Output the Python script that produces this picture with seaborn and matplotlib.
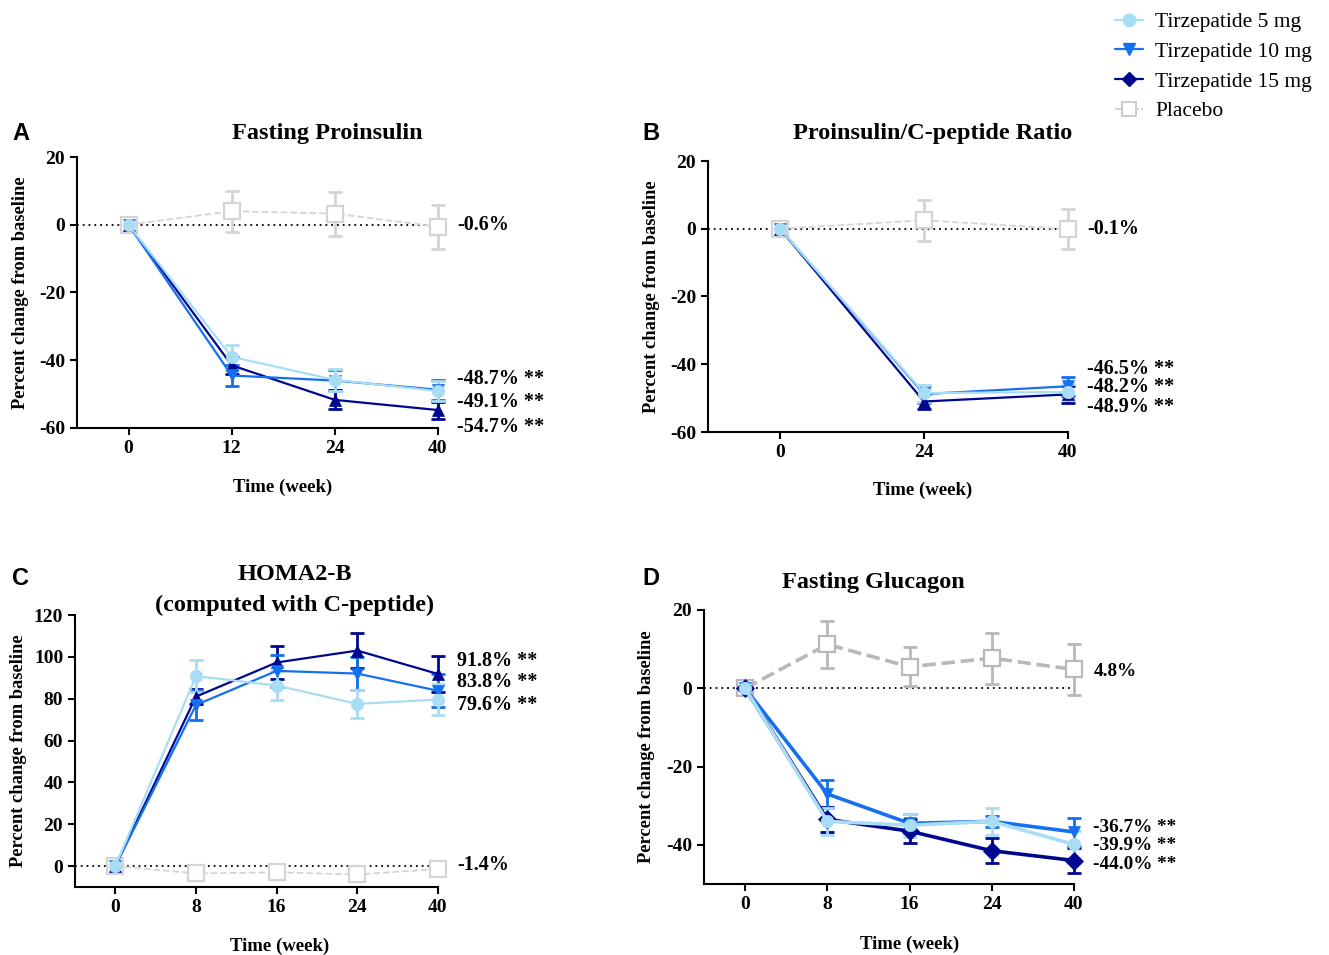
import numpy as np
import pandas as pd
import matplotlib
matplotlib.use("Agg")
import matplotlib.pyplot as plt
import seaborn as sns
from matplotlib.lines import Line2D

# ========= DATA (mean +/- SE) ==============================
groups = ["Tirzepatide 5 mg", "Tirzepatide 10 mg", "Tirzepatide 15 mg", "Placebo"]

# A: Fasting Proinsulin
a_weeks = ["0", "12", "24", "40"]
a_mean = {
    "Tirzepatide 5 mg": [0, -39.0, -45.8, -49.1],
    "Tirzepatide 10 mg": [0, -44.5, -46.0, -48.7],
    "Tirzepatide 15 mg": [0, -41.5, -51.7, -54.7],
    "Placebo": [0, 4.0, 3.3, -0.6],
}
a_err = {
    "Tirzepatide 5 mg": [0, 3.5, 3.3, 3.0],
    "Tirzepatide 10 mg": [0, 3.0, 3.2, 3.0],
    "Tirzepatide 15 mg": [0, 2.5, 2.8, 2.5],
    "Placebo": [0, 6.0, 6.5, 6.5],
}
a_labels = ["-0.6%", "-48.7% **", "-49.1% **", "-54.7% **"]

# B: Proinsulin/C-peptide Ratio
b_weeks = ["0", "24", "40"]
b_mean = {
    "Tirzepatide 5 mg": [0, -48.5, -48.2],
    "Tirzepatide 10 mg": [0, -48.8, -46.5],
    "Tirzepatide 15 mg": [0, -51.0, -48.9],
    "Placebo": [0, 2.5, -0.1],
}
b_err = {
    "Tirzepatide 5 mg": [0, 2.5, 2.5],
    "Tirzepatide 10 mg": [0, 2.5, 2.8],
    "Tirzepatide 15 mg": [0, 2.2, 2.5],
    "Placebo": [0, 6.0, 6.0],
}
b_labels = ["-0.1%", "-46.5% **", "-48.2% **", "-48.9% **"]

# C: HOMA2-B
c_weeks = ["0", "8", "16", "24", "40"]
c_mean = {
    "Tirzepatide 5 mg": [0, 90.8, 86.3, 77.5, 79.6],
    "Tirzepatide 10 mg": [0, 77.0, 93.3, 92.0, 83.8],
    "Tirzepatide 15 mg": [0, 81.0, 97.3, 103.0, 91.8],
    "Placebo": [0, -3.5, -3.0, -4.0, -1.4],
}
c_err = {
    "Tirzepatide 5 mg": [0, 7.5, 7.0, 6.5, 7.5],
    "Tirzepatide 10 mg": [0, 7.0, 7.5, 8.0, 8.0],
    "Tirzepatide 15 mg": [0, 3.5, 8.0, 8.5, 8.5],
    "Placebo": [0, 2.5, 2.5, 2.5, 2.5],
}
c_labels = ["-1.4%", "91.8% **", "83.8% **", "79.6% **"]

# D: Fasting Glucagon
d_weeks = ["0", "8", "16", "24", "40"]
d_mean = {
    "Tirzepatide 5 mg": [0, -34.0, -35.0, -34.0, -39.9],
    "Tirzepatide 10 mg": [0, -27.0, -34.5, -34.0, -36.7],
    "Tirzepatide 15 mg": [0, -33.5, -36.5, -41.5, -44.0],
    "Placebo": [0, 11.2, 5.5, 7.7, 4.8],
}
d_err = {
    "Tirzepatide 5 mg": [0, 3.5, 3.0, 3.5, 3.5],
    "Tirzepatide 10 mg": [0, 3.5, 2.5, 1.5, 3.5],
    "Tirzepatide 15 mg": [0, 3.2, 3.0, 3.2, 3.2],
    "Placebo": [0, 6.0, 5.0, 6.5, 6.5],
}
d_labels = ["4.8%", "-36.7% **", "-39.9% **", "-44.0% **"]

# ========= STYLE ==========
COLORS = {
    "Tirzepatide 5 mg": "#a9dcf5",
    "Tirzepatide 10 mg": "#1470f0",
    "Tirzepatide 15 mg": "#00078f",
    "Placebo": "#d4d4d4",
}
sns.set_style("ticks")
plt.rcParams['font.family'] = ['Liberation Serif', 'DejaVu Serif']
plt.rcParams['font.weight'] = 'bold'
plt.rcParams['axes.linewidth'] = 1.5
plt.rcParams['axes.unicode_minus'] = False
for k in ['text.color', 'axes.labelcolor', 'xtick.color', 'ytick.color', 'axes.edgecolor']:
    plt.rcParams[k] = 'black'

fig = plt.figure(figsize=(13.29, 9.55), dpi=100)
W, H = 1329, 955


def px_axes(l, t, r, b):
    return fig.add_axes([l / W, 1 - b / H, (r - l) / W, (b - t) / H])


def draw_panel(ax, weeks, means, errs, markers, ylim, yticks, labels, label_y,
               lw=1.6, placebo_color="#d4d4d4", placebo_lw=1.3, label_fs=14.5):
    x = np.arange(len(weeks))
    ax.axhline(0, color="black", ls=(0, (1, 2.2)), lw=1.3, zorder=1)
    for g in ["Placebo", "Tirzepatide 15 mg", "Tirzepatide 10 mg", "Tirzepatide 5 mg"]:
        placebo = g == "Placebo"
        col = placebo_color if placebo else COLORS[g]
        df = pd.DataFrame({"week": x, "change": means[g]})
        eb = ax.errorbar(x, means[g], yerr=errs[g], fmt="none", ecolor=col,
                         elinewidth=2.0, capsize=5, capthick=2.0, zorder=2)
        for art in eb.lines[1] + eb.lines[2]:
            art.set_clip_on(False)
        sns.lineplot(data=df, x="week", y="change", ax=ax, color=col,
                     linewidth=placebo_lw if placebo else lw,
                     linestyle="--" if placebo else "-",
                     marker=markers[g], markersize=11 if placebo else 9,
                     markerfacecolor="white" if placebo else col,
                     markeredgecolor=col, markeredgewidth=1.6 if placebo else 0.5,
                     legend=False, zorder=3, clip_on=False)
    ax.set_xlim(-0.5, len(weeks) - 1)
    ax.set_ylim(*ylim)
    ax.set_yticks(yticks)
    ax.set_xticks(x)
    ax.set_xticklabels(weeks)
    ax.tick_params(axis="both", labelsize=14, width=1.5, length=5, direction="out")
    for t in ax.get_xticklabels() + ax.get_yticklabels():
        t.set_fontweight("bold")
    sns.despine(ax=ax)
    ax.set_xlabel("")
    ax.set_ylabel("Percent change from baseline", fontsize=13.3, fontweight="bold")
    ax.yaxis.set_label_coords(-0.132, 0.5)
    for txt, yy in zip(labels, label_y):
        ax.annotate(txt, xy=(x[-1], yy), xytext=(14, 0), textcoords="offset points",
                    va="center", ha="left", fontsize=label_fs, fontweight="bold",
                    annotation_clip=False)


mk_ac = {"Tirzepatide 5 mg": "o", "Tirzepatide 10 mg": "v",
         "Tirzepatide 15 mg": "^", "Placebo": "s"}
mk_d = {"Tirzepatide 5 mg": "o", "Tirzepatide 10 mg": "v",
        "Tirzepatide 15 mg": "D", "Placebo": "s"}

# A
axA = px_axes(77, 157, 438, 428)
draw_panel(axA, a_weeks, a_mean, a_err, mk_ac, (-60, 20), [-60, -40, -20, 0, 20],
           a_labels, [0, -45.6, -52.4, -59.6])
fig.text(283 / W, 1 - 487 / H, "Time (week)", ha="center", va="center", fontsize=13.5, fontweight="bold")
fig.text(327 / W, 1 - 134 / H, "Fasting Proinsulin", ha="center", va="center", fontsize=17.5, fontweight="bold")
fig.text(12 / W, 1 - 133 / H, "A", ha="left", va="center", fontsize=17, fontweight="bold", family="Liberation Sans")

# B
axB = px_axes(708, 161, 1068, 432)
draw_panel(axB, b_weeks, b_mean, b_err, mk_ac, (-60, 20), [-60, -40, -20, 0, 20],
           b_labels, [0, -41.3, -46.6, -52.5])
fig.text(923 / W, 1 - 490 / H, "Time (week)", ha="center", va="center", fontsize=13.5, fontweight="bold")
fig.text(933 / W, 1 - 133 / H, "Proinsulin/C-peptide Ratio", ha="center", va="center", fontsize=17.5, fontweight="bold")
fig.text(642 / W, 1 - 133 / H, "B", ha="left", va="center", fontsize=17, fontweight="bold", family="Liberation Sans")

# C
axC = px_axes(75, 615, 438, 887)
draw_panel(axC, c_weeks, c_mean, c_err, mk_ac, (-10, 120), [0, 20, 40, 60, 80, 100, 120],
           c_labels, [0.5, 98.1, 88.1, 77.1])
fig.text(280 / W, 1 - 946 / H, "Time (week)", ha="center", va="center", fontsize=13.5, fontweight="bold")
fig.text(295 / W, 1 - 574 / H, "HOMA2-B", ha="center", va="center", fontsize=17.5, fontweight="bold")
fig.text(295 / W, 1 - 605 / H, "(computed with C-peptide)", ha="center", va="center", fontsize=17.5, fontweight="bold")
fig.text(12 / W, 1 - 578 / H, "C", ha="left", va="center", fontsize=17, fontweight="bold", family="Liberation Sans")

# D
axD = px_axes(704, 610, 1074, 884)
draw_panel(axD, d_weeks, d_mean, d_err, mk_d, (-50, 20), [-40, -20, 0, 20],
           d_labels, [4.3, -35.6, -40.2, -44.9], lw=2.6, placebo_color="#b8b8b8",
           placebo_lw=2.6, label_fs=13.8)
fig.text(910 / W, 1 - 944 / H, "Time (week)", ha="center", va="center", fontsize=13.5, fontweight="bold")
fig.text(873 / W, 1 - 582 / H, "Fasting Glucagon", ha="center", va="center", fontsize=17.5, fontweight="bold")
fig.text(642 / W, 1 - 578 / H, "D", ha="left", va="center", fontsize=17, fontweight="bold", family="Liberation Sans")

# Legend
handles = [
    Line2D([], [], color=COLORS["Tirzepatide 5 mg"], marker="o", markersize=9, lw=1.6),
    Line2D([], [], color=COLORS["Tirzepatide 10 mg"], marker="v", markersize=9, lw=1.6),
    Line2D([], [], color=COLORS["Tirzepatide 15 mg"], marker="D", markersize=7, lw=1.6),
    Line2D([], [], color="#c8c8c8", marker="s", markersize=10, lw=1.2, ls="--",
           markerfacecolor="white", markeredgewidth=1.3),
]
leg = fig.legend(handles, groups, loc="upper left", bbox_to_anchor=(1096 / W, 1 + 7 / H),
                 frameon=False, handlelength=1.3, handletextpad=0.55, labelspacing=0.44,
                 prop={"family": "Liberation Serif", "weight": "normal", "size": 15.5})

fig.savefig("out.png", dpi=100)
